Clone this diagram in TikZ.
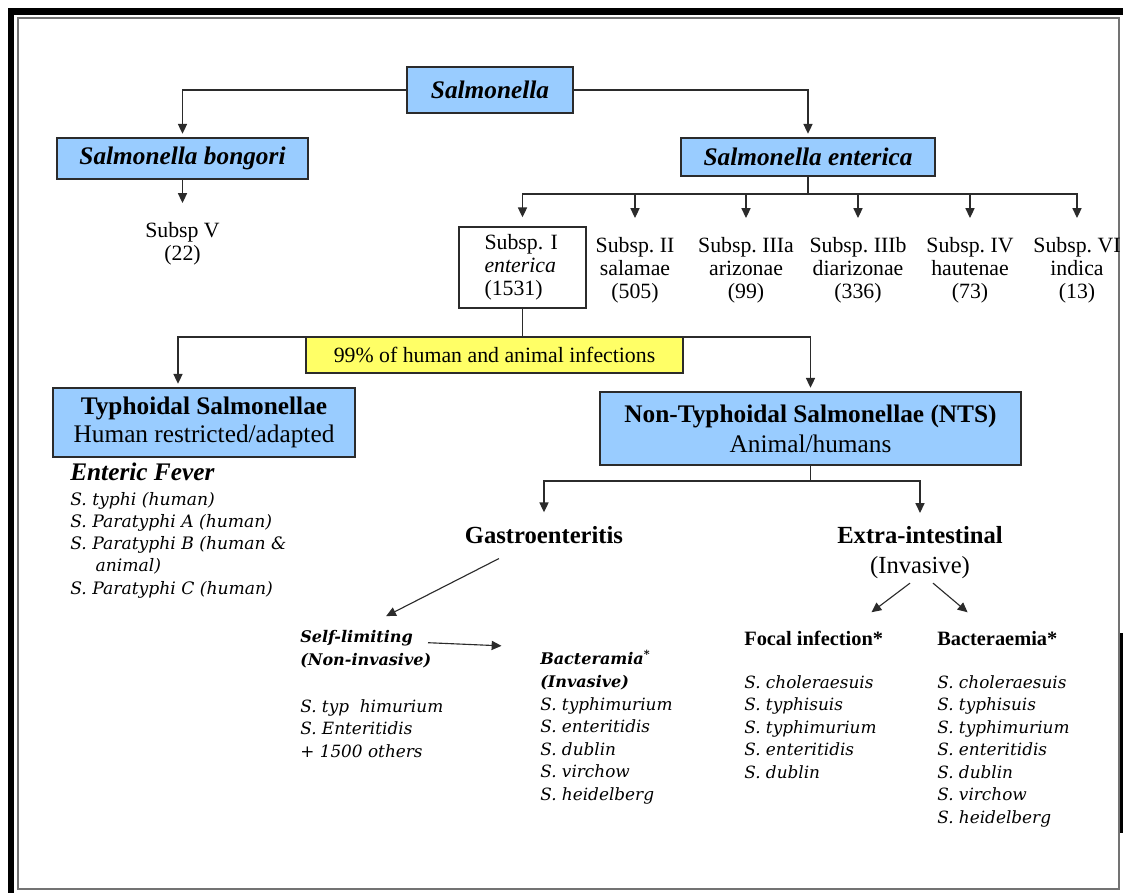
\documentclass[tikz,border=0pt]{standalone}
\usepackage{fontspec}
\setmainfont{Liberation Serif}
\newfontfamily\serofont{DejaVu Serif}
\usetikzlibrary{positioning,calc,arrows.meta}
\definecolor{genusblue}{HTML}{99CCFF}
\definecolor{noteyellow}{HTML}{FFFF66}
\definecolor{edgegray}{HTML}{2B2B2B}
\tikzset{
	link/.style={-{Triangle[length=7pt,width=6.5pt]}, line width=0.8pt, draw=edgegray, shorten >=2.5pt}, % tree connector
	reach/.style={shorten >=#1}, reach/.default=6.4pt, % stops short of a text label
	genus/.style={draw=edgegray, fill=genusblue, line width=1pt, inner sep=0pt, font=\fontsize{18}{21}\selectfont\bfseries\itshape},
	group/.style={draw=edgegray, fill=genusblue, line width=1pt, inner sep=0pt, align=center},
	subsp/.style={anchor=north, align=center, inner xsep=0pt, inner ysep=7pt, font=\fontsize{15.5}{16.3}\selectfont},
	head/.style={inner sep=0pt, font=\fontsize{17.5}{21.3}\selectfont},
	sero/.style={anchor=north west, align=left, inner sep=0pt, font=\serofont\itshape\fontsize{12}{16}\selectfont}
}

\begin{document}
\frenchspacing
\begin{tikzpicture}[x=0.025cm, y=-0.025cm,
        kind/.style={anchor=north west, align=left, inner sep=0pt, font=\serofont\bfseries\itshape\fontsize{11.4}{16.3}\selectfont},
        form/.style={anchor=base west, inner sep=0pt, font=\fontsize{14.5}{17}\selectfont\bfseries}
    ]
    \useasboundingbox (0,0) rectangle (1123,893);
    % frame
    \draw[line width=4.5pt] (11,893) -- (11,11.5) -- (1123,11.5);
    \draw[line width=2pt] (1121.5,633) -- (1121.5,833);
    \draw[line width=1pt, black!55] (18,18) rectangle (1119,889);

    % genus and species
    \node[genus, minimum width=4.15cm, minimum height=1.15cm] (salm) at (490,90) {Salmonella};
    \node[genus, minimum width=6.275cm, minimum height=1.025cm] (bong) at (182.5,158.5) {Salmonella bongori};
    \node[genus, minimum width=6.35cm, minimum height=0.95cm] (ent) at (808,157) {Salmonella enterica};
    \draw[link] (salm.west) -| (bong.north);
    \draw[link] (salm.east) -| (ent.north);

    \node[subsp] (subV) at (182.5,212) {Subsp V\\(22)};
    \draw[link,reach] (bong.south) -- (subV.north);

    % subspecies of enterica
    \node[draw=edgegray, line width=1pt, inner sep=0pt, minimum width=3.175cm, minimum height=2.025cm,
        align=left, text width=54pt, font=\fontsize{15.5}{16.3}\selectfont] (sI) at (522.5,267.5) {Subsp. I\\\textit{enterica}\\(1531)};
    \node[subsp] (sII) at (635,227) {Subsp. II\\salamae\\(505)};
    \node[subsp] (sIIIa) at (746,227) {Subsp. IIIa\\arizonae\\(99)};
    \node[subsp] (sIIIb) at (858,227) {Subsp. IIIb\\diarizonae\\(336)};
    \node[subsp] (sIV) at (970,227) {Subsp. IV\\hautenae\\(73)};
    \node[subsp] (sVI) at (1077,227) {Subsp. VI\\indica\\(13)};
    \coordinate (entbus) at (808,194);
    \foreach \s in {sI,sII,sIIIa,sIIIb,sIV,sVI}
        \draw[link,reach] (ent.south) -- (entbus) -| (\s.north);

    % typhoidal / non-typhoidal
    \node[group, minimum width=7.55cm, minimum height=1.725cm, font=\fontsize{18}{19.5}\selectfont] (typh) at (204,422.5)
        {\textbf{Typhoidal Salmonellae}\\Human restricted/adapted};
    \node[group, minimum width=10.525cm, minimum height=1.825cm, font=\fontsize{18}{21.3}\selectfont] (nts) at (810.5,428.5)
        {\textbf{Non-Typhoidal Salmonellae (NTS)}\\Animal/humans};
    \coordinate (ibus) at (522.5,337);
    \draw[link] (sI.south) -- (ibus) -| ([xshift=-0.65cm]typh.north);
    \draw[link] (sI.south) -- (ibus) -| (nts.north);
    \node[draw=edgegray, fill=noteyellow, line width=1pt, inner sep=0pt, minimum width=9.425cm, minimum height=0.9cm,
        font=\fontsize{15.5}{17}\selectfont] (share) at (494.5,355) {99\% of human and animal infections};

    % enteric fever
    \node[anchor=base west, inner sep=0pt, font=\fontsize{18}{21}\selectfont\bfseries\itshape] (fever) at (70,480) {Enteric Fever};
    \node[sero, font=\serofont\itshape\fontsize{12.2}{15.8}\selectfont] (feverlist) at (70,492)
        {S. typhi (human)\\S. Paratyphi A (human)\\S. Paratyphi B (human \&\\\hspace*{18pt}animal)\\S. Paratyphi C (human)};

    % NTS branches
    \node[head, anchor=base, font=\fontsize{17.5}{21.3}\selectfont\bfseries] (gastro) at (544,543) {Gastroenteritis};
    \node[head, anchor=north, align=center] (extra) at (920,526.3) {\textbf{Extra-intestinal}\\(Invasive)};
    \coordinate (ntsbus) at (810.5,481);
    \draw[link,reach=9.5pt] (nts.south) -- (ntsbus) -| (gastro.north);
    \draw[link,reach=9.5pt] (nts.south) -- (ntsbus) -| (extra.north);

    \node[kind] (selflim) at (300,629.7) {Self-limiting\\(Non-invasive)};
    \node[sero] (gastrolist) at (300,699) {S. typ\ \ himurium\\S. Enteritidis\\+ 1500 others};
    \node[kind] (bactm) at (540,650) {Bacteramia\textsuperscript{*}\\(Invasive)};
    \node[sero] (bactmlist) at (540,697) {S. typhimurium\\S. enteritidis\\S. dublin\\S. virchow\\S. heidelberg};
    \draw[link] ($(gastro.south)+(-45,15)$) -- ($(selflim.north west)+(83,-12)$);
    \draw[link] ($(selflim.north west)+(128,13)$) -- ($(bactm.north west)+(-35,-4)$);

    \node[form] (focal) at (744,645) {Focal infection*};
    \node[form] (bact) at (937,645) {Bacteraemia*};
    \node[sero] (focallist) at (744,675.2) {S. choleraesuis\\S. typhisuis\\S. typhimurium\\S. enteritidis\\S. dublin};
    \node[sero] (bactlist) at (937,675.2) {S. choleraesuis\\S. typhisuis\\S. typhimurium\\S. enteritidis\\S. dublin\\S. virchow\\S. heidelberg};
    \draw[link] ($(extra.south)+(-10,4)$) -- ($(focal.north)+(55,-16)$);
    \draw[link] ($(extra.south)+(13,4)$) -- ($(bact.north)+(-27,-16)$);
\end{tikzpicture}
\end{document}
